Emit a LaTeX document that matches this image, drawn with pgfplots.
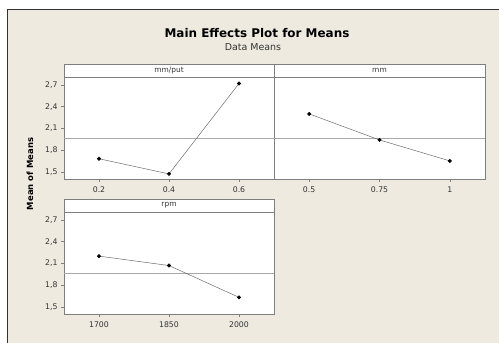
\documentclass[border=0pt]{standalone}
\usepackage{pgfplots}
\pgfplotsset{compat=1.18}
\usepackage{fontspec}
\setmainfont{DejaVu Sans}
\definecolor{bgtan}{HTML}{EEEAE0}
\definecolor{txt}{HTML}{333333}
\definecolor{frm}{HTML}{7F7F7F}
\definecolor{meanc}{HTML}{A8A8A8}
\definecolor{linec}{HTML}{6E6E6E}
\pgfplotsset{
  panel/.style={
    scale only axis, anchor=south west, height=102bp,
    ymin=1.40, ymax=2.81,
    axis background/.style={fill=white},
    axis line style={frm, line width=0.6bp},
    tick style={frm, line width=0.5bp},
    tick align=outside, major tick length=3bp,
    xtick pos=bottom, ytick pos=left,
    ytick={1.5,1.8,2.1,2.4,2.7},
    yticklabel style={/pgf/number format/.cd, use comma, fixed, fixed zerofill, precision=1, assume math mode=true},
    ticklabel style={font=\fontsize{7.8}{9}\selectfont, text=txt},
    xticklabel style={yshift=-1bp},
    clip=false,
  },
  dataline/.style={linec, line width=0.5bp, mark=*, mark size=1.7bp, mark options={fill=black, draw=black, solid}},
  meanline/.style={meanc, line width=0.8bp, forget plot},
}
\begin{document}
\begin{tikzpicture}
\path[use as bounding box] (0,0) rectangle (499bp,343bp);
\fill[white] (0,0) rectangle (499bp,343bp);
\fill[bgtan] (7bp,0) rectangle (499bp,334bp);
\draw[black!80, line width=0.7bp] (7bp,0) -- (7bp,334bp) -- (499bp,334bp);

\node[font=\bfseries\fontsize{12}{14}\selectfont, text=black] at (257bp,310bp) {Main Effects Plot for Means};
\node[font=\fontsize{9.5}{11}\selectfont, text=txt] at (253bp,296bp) {Data Means};
\node[font=\bfseries\fontsize{8.5}{10}\selectfont, rotate=90, text=black] at (30bp,169bp) {Mean of Means};

% Panel 1: mm/put
\begin{axis}[panel, at={(64bp,164bp)}, width=210bp, xmin=0.1, xmax=0.7,
  xtick={0.2,0.4,0.6}, xticklabels={0.2,0.4,0.6}]
\addplot[meanline] coordinates {(0.1,1.96) (0.7,1.96)};
\addplot[dataline] coordinates {(0.2,1.68) (0.4,1.47) (0.6,2.72)};
\end{axis}

% Panel 2: mm
\begin{axis}[panel, at={(274bp,164bp)}, width=211bp, xmin=0.375, xmax=1.125,
  xtick={0.5,0.75,1}, xticklabels={0.5,0.75,1}, ytick=\empty]
\addplot[meanline] coordinates {(0.375,1.96) (1.125,1.96)};
\addplot[dataline] coordinates {(0.5,2.30) (0.75,1.94) (1,1.65)};
\end{axis}

% Panel 3: rpm
\begin{axis}[panel, at={(64bp,29bp)}, width=210bp, xmin=1625, xmax=2075,
  xtick={1700,1850,2000}, xticklabels={1700,1850,2000}]
\addplot[meanline] coordinates {(1625,1.96) (2075,1.96)};
\addplot[dataline] coordinates {(1700,2.20) (1850,2.07) (2000,1.63)};
\end{axis}

% strips
\draw[frm, fill=white, line width=0.6bp] (64bp,266bp) rectangle (274bp,279bp);
\draw[frm, fill=white, line width=0.6bp] (274bp,266bp) rectangle (485bp,279bp);
\draw[frm, fill=white, line width=0.6bp] (64bp,131bp) rectangle (274bp,144bp);
\node[font=\fontsize{7.5}{8}\selectfont, text=txt] at (169bp,272.5bp) {mm/put};
\node[font=\fontsize{7.5}{8}\selectfont, text=txt] at (379.5bp,272.5bp) {mm};
\node[font=\fontsize{7.5}{8}\selectfont, text=txt] at (169bp,137.5bp) {rpm};
\end{tikzpicture}
\end{document}
